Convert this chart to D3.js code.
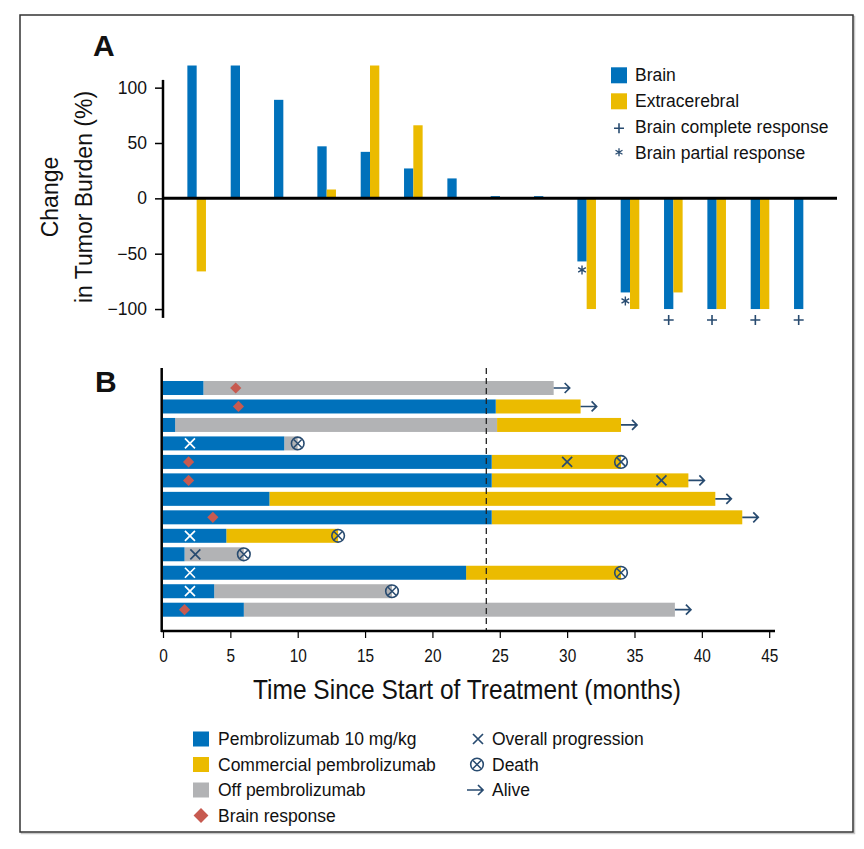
<!DOCTYPE html>
<html>
<head>
<meta charset="utf-8">
<script src="https://cdn.jsdelivr.net/npm/d3@7"></script>
<style>
  html, body { margin: 0; padding: 0; background: #fff; }
  svg { display: block; }
  text { font-family: "Liberation Sans", Arial, sans-serif; fill: #111; }
</style>
</head>
<body>
<script>
// ---------- Panel A data ----------
const patientsA = d3.range(1, 16).map(String);
const brainChange = [120, 120, 89, 47, 42, 27, 18, 2, 2, -57, -85, -100, -100, -100, -100];
const extraChange = [-66, null, null, 8, 120, 66, null, null, null, -100, -100, -85, -100, -100, null];
const brainResponseA = [null, null, null, null, null, null, null, null, null, "partial", "partial", "complete", "complete", "complete", "complete"];
const yTicksA = [-100, -50, 0, 50, 100];
const legendA = ["Brain", "Extracerebral", "Brain complete response", "Brain partial response"];

// ---------- Panel B data ----------
const patientsB = d3.range(1, 14).map(String);
const pembro10 = [[0,3],[0,24.7],[0,0.9],[0,9],[0,24.4],[0,24.4],[0,7.9],[0,24.4],[0,4.7],[0,1.6],[0,22.5],[0,3.8],[0,6]];
const commercial = [null,[24.7,31],[24.8,34],null,[24.4,34],[24.4,39],[7.9,41],[24.4,43],[4.7,13],null,[22.5,34],null,null];
const offPembro = [[3,29],null,[0.9,24.8],[9,10],null,null,null,null,null,[1.6,6],null,[3.8,17],[6,38]];
const brainResponseB = [5.4, 5.6, null, null, 1.9, 1.9, null, 3.7, null, null, null, null, 1.6];
const progression = [null, null, null, 2, 30, 37, null, null, 2, 2.4, 2, 2, null];
const death = [null, null, null, 10, 34, null, null, null, 13, 6, 34, 17, null];
const alive = [29, 31, 34, null, null, 39, 41, 43, null, null, null, null, 38];
const xTicksB = [0, 5, 10, 15, 20, 25, 30, 35, 40, 45];
const cutoffMonth = 24;
const legendB1 = ["Pembrolizumab 10 mg/kg", "Commercial pembrolizumab", "Off pembrolizumab", "Brain response"];
const legendB2 = ["Overall progression", "Death", "Alive"];

// ---------- styles ----------
const BLUE = "#0071bb", YELLOW = "#ebbb00", GRAY = "#b2b3b5", RED = "#c75a50", DARK = "#284b70";

const W = 864, H = 849;
const svg = d3.select("body").append("svg").attr("width", W).attr("height", H);

// frame
svg.append("rect").attr("x", 21.5).attr("y", 16.5).attr("width", 833).attr("height", 817)
  .attr("fill", "none").attr("stroke", "#c8c8c8").attr("stroke-width", 1.5);
svg.append("rect").attr("x", 20).attr("y", 15).attr("width", 833).attr("height", 817)
  .attr("fill", "#fff").attr("stroke", "#333").attr("stroke-width", 1.5);

// ================= PANEL A =================
const xA = d3.scaleBand().domain(patientsA).range([175, 825]);
const yA = d3.scaleLinear().domain([-108, 107]).range([317.9, 79.9]);
const barW = 9.3;
const gA = svg.append("g");

svg.append("text").attr("x", 93).attr("y", 56).attr("font-size", 30).attr("font-weight", "bold").text("A");

gA.selectAll("rect.brain").data(patientsA).join("rect")
  .attr("x", d => xA(d) + xA.bandwidth() / 2 - barW)
  .attr("width", barW)
  .attr("y", (d, i) => yA(Math.max(0, brainChange[i])))
  .attr("height", (d, i) => Math.abs(yA(brainChange[i]) - yA(0)))
  .attr("fill", BLUE);
gA.selectAll("rect.extra").data(patientsA.filter((d, i) => extraChange[i] !== null)).join("rect")
  .attr("x", d => xA(d) + xA.bandwidth() / 2)
  .attr("width", barW)
  .attr("y", d => yA(Math.max(0, extraChange[+d - 1])))
  .attr("height", d => Math.abs(yA(extraChange[+d - 1]) - yA(0)))
  .attr("fill", YELLOW);

patientsA.forEach((d, i) => {
  if (!brainResponseA[i]) return;
  const cx = xA(d) + xA.bandwidth() / 2 - barW / 2;
  const cy = yA(brainChange[i]) + (brainResponseA[i] === "complete" ? 11 : 8.5);
  if (brainResponseA[i] === "complete") {
    gA.append("path").attr("d", `M${cx - 5},${cy}H${cx + 5}M${cx},${cy - 5}V${cy + 5}`)
      .attr("stroke", DARK).attr("stroke-width", 1.6);
  } else {
    gA.append("path").attr("d", d3.symbol(d3.symbolAsterisk, 55)()).attr("transform", `translate(${cx},${cy})`)
      .attr("stroke", DARK).attr("stroke-width", 1.4).attr("fill", "none");
  }
});

gA.append("line").attr("x1", 163).attr("x2", 837).attr("y1", yA(0)).attr("y2", yA(0))
  .attr("stroke", "#000").attr("stroke-width", 3);

const axA = gA.append("g").attr("transform", "translate(163,0)")
  .call(d3.axisLeft(yA).tickValues(yTicksA).tickSize(8).tickPadding(8));
axA.select(".domain").remove();
axA.selectAll(".tick line").attr("stroke", "#000").attr("stroke-width", 1.5);
axA.selectAll(".tick text").attr("font-size", 17.5).attr("font-family", "Liberation Sans, Arial, sans-serif").attr("fill", "#111");
gA.append("line").attr("x1", 163).attr("x2", 163).attr("y1", yA(107)).attr("y2", yA(-108))
  .attr("stroke", "#000").attr("stroke-width", 2.5);

gA.append("text").attr("font-size", 23).attr("text-anchor", "middle")
  .attr("transform", "translate(58,197) rotate(-90)").text("Change");
gA.append("text").attr("font-size", 23).attr("text-anchor", "middle")
  .attr("transform", "translate(91.5,197) rotate(-90)").text("in Tumor Burden (%)");

const legA = gA.append("g");
legendA.forEach((t, i) => {
  const cy = 75.3 + i * 26;
  if (i < 2) {
    legA.append("rect").attr("x", 611).attr("y", cy - 8).attr("width", 16).attr("height", 16)
      .attr("fill", i === 0 ? BLUE : YELLOW);
  } else if (i === 2) {
    legA.append("path").attr("d", `M${614},${cy + 1}H${624}M${619},${cy - 4}V${cy + 6}`)
      .attr("stroke", DARK).attr("stroke-width", 1.6);
  } else {
    legA.append("path").attr("d", d3.symbol(d3.symbolAsterisk, 45)()).attr("transform", `translate(619,${cy - 1})`)
      .attr("stroke", DARK).attr("stroke-width", 1.3).attr("fill", "none");
  }
  legA.append("text").attr("x", 635).attr("y", cy + 6).attr("font-size", 17.5).text(t);
});

// ================= PANEL B =================
const xB = d3.scaleLinear().domain([0, 45]).range([163, 769.2]);
const yB = d3.scalePoint().domain(patientsB).range([388, 609.7]);
const barH = 14;
const gB = svg.append("g");

svg.append("text").attr("x", 95).attr("y", 392).attr("font-size", 30).attr("font-weight", "bold").text("B");

function segs(arr, color) {
  patientsB.forEach((p, i) => {
    const s = arr[i];
    if (!s) return;
    gB.append("rect").attr("x", xB(s[0])).attr("width", xB(s[1]) - xB(s[0]))
      .attr("y", yB(p) - barH / 2).attr("height", barH).attr("fill", color);
  });
}
segs(offPembro, GRAY);
segs(commercial, YELLOW);
segs(pembro10, BLUE);

gB.append("line").attr("x1", xB(cutoffMonth)).attr("x2", xB(cutoffMonth)).attr("y1", 368).attr("y2", 631)
  .attr("stroke", "#222").attr("stroke-width", 1.3).attr("stroke-dasharray", "6,4");

function xMark(g, cx, cy, color) {
  g.append("path").attr("d", `M${cx - 5},${cy - 5}L${cx + 5},${cy + 5}M${cx - 5},${cy + 5}L${cx + 5},${cy - 5}`)
    .attr("stroke", color).attr("stroke-width", 1.7);
}
function deathMark(g, cx, cy) {
  g.append("circle").attr("cx", cx).attr("cy", cy).attr("r", 6.3).attr("fill", "none")
    .attr("stroke", DARK).attr("stroke-width", 1.6);
  g.append("path").attr("d", `M${cx - 4},${cy - 4}L${cx + 4},${cy + 4}M${cx - 4},${cy + 4}L${cx + 4},${cy - 4}`)
    .attr("stroke", DARK).attr("stroke-width", 1.5);
}
function arrowMark(g, x0, cy) {
  g.append("path").attr("d", `M${x0},${cy}H${x0 + 16}M${x0 + 11},${cy - 5}L${x0 + 16},${cy}L${x0 + 11},${cy + 5}`)
    .attr("stroke", DARK).attr("stroke-width", 1.7).attr("fill", "none");
}
function diamond(g, cx, cy, size) {
  g.append("path").attr("d", d3.symbol(d3.symbolDiamond2, size)()).attr("transform", `translate(${cx},${cy})`)
    .attr("fill", RED);
}

patientsB.forEach((p, i) => {
  const cy = yB(p);
  if (brainResponseB[i] !== null) diamond(gB, xB(brainResponseB[i]), cy, 80);
  if (progression[i] !== null) {
    const onBlue = progression[i] <= pembro10[i][1];
    xMark(gB, xB(progression[i]), cy, onBlue ? "#fff" : DARK);
  }
  if (death[i] !== null) deathMark(gB, xB(death[i]), cy);
  if (alive[i] !== null) arrowMark(gB, xB(alive[i]), cy);
});

const axB = gB.append("g").attr("transform", "translate(0,631)")
  .call(d3.axisBottom(xB).tickValues(xTicksB).tickSize(7).tickPadding(12));
axB.select(".domain").remove();
axB.selectAll(".tick line").attr("stroke", "#000").attr("stroke-width", 1.2);
axB.selectAll(".tick text").attr("font-size", 17.5).attr("font-family", "Liberation Sans, Arial, sans-serif")
  .attr("fill", "#111").attr("transform", "scale(0.88,1)");
gB.append("line").attr("x1", 161).attr("x2", 775).attr("y1", 631).attr("y2", 631)
  .attr("stroke", "#000").attr("stroke-width", 2.5);
gB.append("line").attr("x1", 161.7).attr("x2", 161.7).attr("y1", 368).attr("y2", 632)
  .attr("stroke", "#000").attr("stroke-width", 2.5);

gB.append("text").attr("x", 467).attr("y", 699)
  .attr("text-anchor", "middle").attr("font-size", 28)
  .attr("textLength", 428).attr("lengthAdjust", "spacingAndGlyphs")
  .text("Time Since Start of Treatment (months)");

const legB = svg.append("g");
legendB1.forEach((t, i) => {
  const cy = 739 + i * 25.5;
  if (i < 3) {
    legB.append("rect").attr("x", 193).attr("y", cy - 7.5).attr("width", 16).attr("height", 15)
      .attr("fill", [BLUE, YELLOW, GRAY][i]);
  } else {
    diamond(legB, 201, cy, 140);
  }
  legB.append("text").attr("x", 218).attr("y", cy + 6).attr("font-size", 17.5).text(t);
});
legendB2.forEach((t, i) => {
  const cy = 739 + i * 25.5;
  if (i === 0) xMark(legB, 478, cy, DARK);
  else if (i === 1) deathMark(legB, 477, cy);
  else arrowMark(legB, 467, cy);
  legB.append("text").attr("x", 492).attr("y", cy + 6).attr("font-size", 17.5).text(t);
});
</script>
</body>
</html>
